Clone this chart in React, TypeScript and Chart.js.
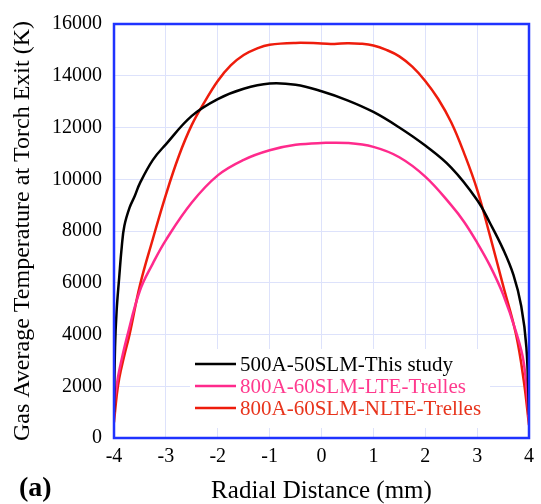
import React, { useEffect, useRef } from "react";
import { Chart, registerables } from "chart.js";

Chart.register(...registerables);

const xTicks = [-4, -3, -2, -1, 0, 1, 2, 3, 4];
const yTicks = [0, 2000, 4000, 6000, 8000, 10000, 12000, 14000, 16000];

const seriesNames = [
  "500A-50SLM-This study",
  "800A-60SLM-LTE-Trelles",
  "800A-60SLM-NLTE-Trelles",
];

const studyR = [-4, -3.98, -3.95, -3.9, -3.85, -3.8, -3.7, -3.6, -3.5, -3.25, -3, -2.5, -2, -1.5, -1, -0.5, 0, 0.5, 1, 1.5, 2, 2.5, 3, 3.25, 3.5, 3.7, 3.85, 3.95, 4];
const studyT = [1000, 3500, 4900, 6200, 7400, 8200, 8900, 9350, 9850, 10750, 11350, 12450, 13100, 13500, 13700, 13650, 13400, 13050, 12600, 12000, 11300, 10450, 9200, 8300, 7300, 6300, 5100, 3500, 900];

const lteR = [-4, -3.95, -3.9, -3.75, -3.5, -3.25, -3, -2.5, -2, -1.5, -1, -0.5, 0, 0.5, 1, 1.5, 2, 2.5, 2.75, 3, 3.25, 3.5, 3.75, 3.9, 4];
const lteT = [1300, 2000, 2600, 3900, 5700, 6750, 7650, 9100, 10150, 10750, 11120, 11330, 11400, 11400, 11250, 10850, 10100, 9000, 8350, 7550, 6650, 5550, 4100, 2900, 700];

const nlteR = [-4, -3.95, -3.9, -3.8, -3.7, -3.5, -3.25, -3, -2.75, -2.5, -2.25, -2, -1.75, -1.5, -1.25, -1, -0.5, 0, 0.25, 0.5, 0.75, 1, 1.25, 1.5, 1.75, 2, 2.25, 2.5, 2.75, 3, 3.25, 3.5, 3.75, 3.9, 4];
const nlteT = [600, 1600, 2300, 3200, 4000, 5900, 7700, 9400, 10900, 12100, 13000, 13800, 14400, 14800, 15050, 15200, 15270, 15250, 15230, 15260, 15240, 15170, 15000, 14750, 14350, 13800, 13100, 12200, 11000, 9600, 7800, 5900, 4000, 2200, 500];

const lineColors = ["#000000", "#ff2a8c", "#ee1c0c"];
const textColors = ["#000000", "#ff3a8e", "#e8341c"];

const FONT = "'Liberation Serif', 'Times New Roman', serif";

function toPoints(r: number[], t: number[]) {
  return r.map((x, i) => ({ x, y: t[i] }));
}

const framePlugin = {
  id: "frameAndLegend",
  beforeDatasetsDraw(chart: any) {
    const { ctx } = chart;
    ctx.save();
    ctx.fillStyle = "#ffffff";
    ctx.fillRect(190, 349, 300, 79);
    ctx.restore();
  },
  afterDatasetsDraw(chart: any) {
    const { ctx, chartArea } = chart;
    ctx.save();
    const rowsY = [364, 386, 408];
    chart.data.datasets.forEach((ds: any, i: number) => {
      ctx.strokeStyle = ds.borderColor;
      ctx.lineWidth = 2.5;
      ctx.beginPath();
      ctx.moveTo(195, rowsY[i]);
      ctx.lineTo(236, rowsY[i]);
      ctx.stroke();
      ctx.fillStyle = textColors[i];
      ctx.font = `21px ${FONT}`;
      ctx.textAlign = "left";
      ctx.textBaseline = "middle";
      ctx.fillText(ds.label, 240, rowsY[i] + 1);
    });
    ctx.strokeStyle = "#1f33ff";
    ctx.lineWidth = 2.5;
    ctx.strokeRect(
      chartArea.left,
      chartArea.top,
      chartArea.right - chartArea.left,
      chartArea.bottom - chartArea.top
    );
    ctx.fillStyle = "#000000";
    ctx.font = `bold 28px ${FONT}`;
    ctx.textAlign = "left";
    ctx.textBaseline = "alphabetic";
    ctx.fillText("(a)", 19, 496);
    ctx.restore();
  },
};

export default function App() {
  const ref = useRef<HTMLCanvasElement>(null);

  useEffect(() => {
    if (!ref.current) return;
    const chart = new Chart(ref.current, {
      type: "line",
      data: {
        datasets: [
          { label: seriesNames[0], data: toPoints(studyR, studyT), borderColor: lineColors[0] },
          { label: seriesNames[1], data: toPoints(lteR, lteT), borderColor: lineColors[1] },
          { label: seriesNames[2], data: toPoints(nlteR, nlteT), borderColor: lineColors[2] },
        ].map((d) => ({
          ...d,
          borderWidth: 2.5,
          pointRadius: 0,
          fill: false,
          tension: 0.4,
        })),
      },
      options: {
        responsive: false,
        animation: false,
        layout: { padding: { left: 0, right: 4, top: 17, bottom: 0 } },
        plugins: {
          legend: { display: false },
          tooltip: { enabled: false },
        },
        scales: {
          x: {
            type: "linear",
            min: -4,
            max: 4,
            afterBuildTicks: (scale: any) => {
              scale.ticks = xTicks.map((v) => ({ value: v }));
            },
            afterFit: (scale: any) => {
              scale.height = 66;
            },
            grid: { color: "#dde2fb", lineWidth: 1, drawTicks: false },
            border: { display: false },
            ticks: {
              color: "#000",
              padding: 7,
              font: { family: FONT, size: 20 },
              maxRotation: 0,
              callback: (v: any) => String(v),
            },
            title: {
              display: true,
              text: "Radial Distance (mm)",
              color: "#000",
              font: { family: FONT, size: 25, lineHeight: 1 },
              padding: { top: 0, bottom: 0 },
            },
          },
          y: {
            type: "linear",
            min: 0,
            max: 16000,
            afterBuildTicks: (scale: any) => {
              scale.ticks = yTicks.map((v) => ({ value: v }));
            },
            afterFit: (scale: any) => {
              scale.width = 114;
            },
            grid: { color: "#dde2fb", lineWidth: 1, drawTicks: false },
            border: { display: false },
            ticks: {
              color: "#000",
              padding: 12,
              font: { family: FONT, size: 20 },
              callback: (v: any) => String(v),
            },
            title: {
              display: true,
              text: "Gas Average Temperature at Torch Exit (K)",
              color: "#000",
              font: { family: FONT, size: 24, lineHeight: 1 },
              padding: { top: 11, bottom: 0 },
            },
          },
        },
      },
      plugins: [framePlugin],
    });
    return () => chart.destroy();
  }, []);

  return (
    <div style={{ position: "absolute", left: 0, top: 0, width: 541, height: 504, background: "#fff" }}>
      <canvas ref={ref} width={541} height={504} />
    </div>
  );
}
